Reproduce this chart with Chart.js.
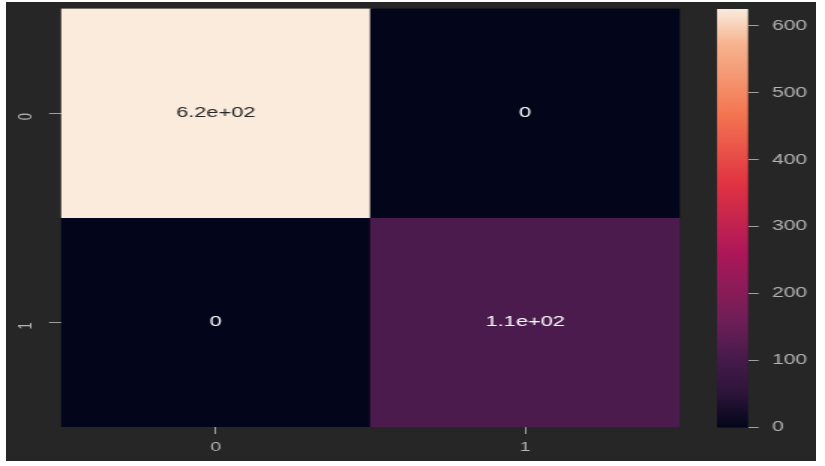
<!DOCTYPE html>
<html>
<head>
<meta charset="utf-8">
<script src="https://cdn.jsdelivr.net/npm/chart.js@4/dist/chart.umd.min.js"></script>
<style>
  html, body { margin:0; padding:0; background:#ffffff; width:825px; height:466px; overflow:hidden; }
  #bg { position:absolute; left:6px; top:2px; width:810px; height:459px; background:#262626; }
  canvas { position:absolute; left:0; top:0; transform:scaleX(1.5); transform-origin:0 0; }
</style>
</head>
<body>
<div id="bg"></div>
<canvas id="heat" width="550" height="466"></canvas>
<canvas id="cbar" width="550" height="466"></canvas>
<script>
// ---- data ----
const xLabels = ['0', '1'];          // predicted class (columns)
const yLabels = ['0', '1'];          // true class (rows)
const row0 = [625, 0];
const row1 = [0, 110];
const colorbarTicks = [0, 100, 200, 300, 400, 500, 600];

const rows = [row0, row1];
const vmin = 0;
const vmax = Math.max(...row0, ...row1);

// rocket-like colormap stops (style)
const rocketStops = [
  [0.000, [3, 5, 26]],
  [0.083, [45, 21, 58]],
  [0.170, [72, 27, 76]],
  [0.250, [108, 31, 87]],
  [0.417, [173, 23, 89]],
  [0.583, [225, 51, 66]],
  [0.750, [243, 118, 81]],
  [0.917, [246, 180, 143]],
  [1.000, [250, 235, 221]]
];
function rocket(t) {
  t = Math.max(0, Math.min(1, t));
  for (let i = 1; i < rocketStops.length; i++) {
    const [p1, c1] = rocketStops[i];
    const [p0, c0] = rocketStops[i - 1];
    if (t <= p1) {
      const f = (t - p0) / (p1 - p0);
      const c = c0.map((v, k) => Math.round(v + (c1[k] - v) * f));
      return `rgb(${c[0]},${c[1]},${c[2]})`;
    }
  }
  const c = rocketStops[rocketStops.length - 1][1];
  return `rgb(${c[0]},${c[1]},${c[2]})`;
}
function luminance(t) {
  const m = rocket(t).match(/\d+/g).map(Number).map(v => {
    v /= 255; return v <= 0.03928 ? v / 12.92 : Math.pow((v + 0.055) / 1.055, 2.4);
  });
  return 0.2126 * m[0] + 0.7152 * m[1] + 0.0722 * m[2];
}
// python-like '%.2g'
function fmt2g(v) {
  if (v === 0) return '0';
  const e = Math.floor(Math.log10(Math.abs(v)));
  let x = v / Math.pow(10, e) * 10;
  const f = Math.floor(x + 1e-9);
  const d = x - f;
  let r = Math.abs(d - 0.5) < 1e-9 ? (f % 2 === 0 ? f : f + 1) : Math.round(x);
  let ee = e;
  if (r >= 100) { r = r / 10; ee += 1; }
  if (ee < -4 || ee >= 2) {
    const m = (r / 10).toFixed(1);
    const sign = ee < 0 ? '-' : '+';
    const ex = String(Math.abs(ee)).padStart(2, '0');
    return m + 'e' + sign + ex;
  }
  return String(+(r * Math.pow(10, ee - 1)).toPrecision(2));
}

const tickColor = '#b4b4b4';
const tickLineColor = '#a0a0a0';
const FONT = 'Liberation Sans';
const tickFont = { family: FONT, size: 13 };
function noPad(s) { s.paddingTop = 0; s.paddingBottom = 0; s.paddingLeft = 0; s.paddingRight = 0; }

const annotate = {
  id: 'annotate',
  afterDatasetsDraw(chart) {
    const ctx = chart.ctx;
    ctx.save();
    ctx.font = '14.5px "' + FONT + '"';
    ctx.textAlign = 'center';
    ctx.textBaseline = 'middle';
    chart.data.datasets.forEach((ds, i) => {
      const meta = chart.getDatasetMeta(i);
      meta.data.forEach((el, j) => {
        const v = rows[i][j];
        const t = (v - vmin) / (vmax - vmin);
        ctx.fillStyle = luminance(t) > 0.408 ? '#262626' : '#ffffff';
        ctx.fillText(fmt2g(v), el.x, (el.y + el.base) / 2);
      });
    });
    ctx.restore();
  }
};

new Chart(document.getElementById('heat'), {
  type: 'bar',
  data: {
    labels: xLabels,
    datasets: rows.map((vals, i) => ({
      data: vals.map(() => [i, i + 1]),
      backgroundColor: vals.map(v => rocket((v - vmin) / (vmax - vmin))),
      borderWidth: 0,
      barPercentage: 1,
      categoryPercentage: 1,
      grouped: false
    }))
  },
  options: {
    responsive: false,
    animation: false,
    devicePixelRatio: 1,
    layout: { padding: { left: 10.7, right: 96.7, top: 8.5, bottom: 9 } },
    plugins: { legend: { display: false }, tooltip: { enabled: false } },
    scales: {
      x: {
        type: 'category',
        offset: true,
        border: { display: false },
        grid: { drawOnChartArea: false, drawTicks: true, tickLength: 7, color: tickLineColor, offset: false, lineWidth: 1 },
        ticks: { color: tickColor, font: tickFont, padding: 6, maxRotation: 0 },
        afterFit(s) { s.height = 30; noPad(s); }
      },
      y: {
        type: 'linear',
        min: 0,
        max: yLabels.length,
        reverse: true,
        border: { display: false },
        grid: { drawOnChartArea: false, drawTicks: true, tickLength: 8, color: tickLineColor, lineWidth: 1 },
        afterBuildTicks(s) { s.ticks = yLabels.map((_, i) => ({ value: i + 0.5 })); },
        ticks: {
          color: tickColor, font: tickFont, padding: 15,
          minRotation: 90, maxRotation: 90,
          callback(v, i) { return yLabels[i]; }
        },
        afterFit(s) { s.width = 30; noPad(s); }
      }
    }
  },
  plugins: [annotate]
});

const gradientBar = {
  id: 'gradientBar',
  beforeDatasetsDraw(chart) {
    const { ctx, chartArea } = chart;
    const ys = chart.scales.y;
    const y0 = ys.getPixelForValue(vmin);
    const y1 = ys.getPixelForValue(vmax);
    const g = ctx.createLinearGradient(0, y0, 0, y1);
    rocketStops.forEach(([p, c]) => g.addColorStop(p, `rgb(${c[0]},${c[1]},${c[2]})`));
    ctx.save();
    ctx.fillStyle = g;
    ctx.fillRect(chartArea.left, y1, chartArea.right - chartArea.left, y0 - y1);
    ctx.restore();
  }
};

new Chart(document.getElementById('cbar'), {
  type: 'bar',
  data: { labels: [''], datasets: [] },
  options: {
    responsive: false,
    animation: false,
    devicePixelRatio: 1,
    layout: { padding: { left: 478, right: 11.3, top: 9, bottom: 38.5 } },
    plugins: { legend: { display: false }, tooltip: { enabled: false } },
    scales: {
      x: { display: false },
      y: {
        type: 'linear',
        position: 'right',
        min: vmin,
        max: vmax,
        border: { display: false },
        grid: { drawOnChartArea: false, drawTicks: true, tickLength: 7, color: tickLineColor, lineWidth: 1 },
        afterBuildTicks(s) { s.ticks = colorbarTicks.map(v => ({ value: v })); },
        ticks: { color: tickColor, font: { family: FONT, size: 14 }, padding: 9 },
        afterFit(s) { s.width = 40; noPad(s); }
      }
    }
  },
  plugins: [gradientBar]
});
</script>
</body>
</html>
